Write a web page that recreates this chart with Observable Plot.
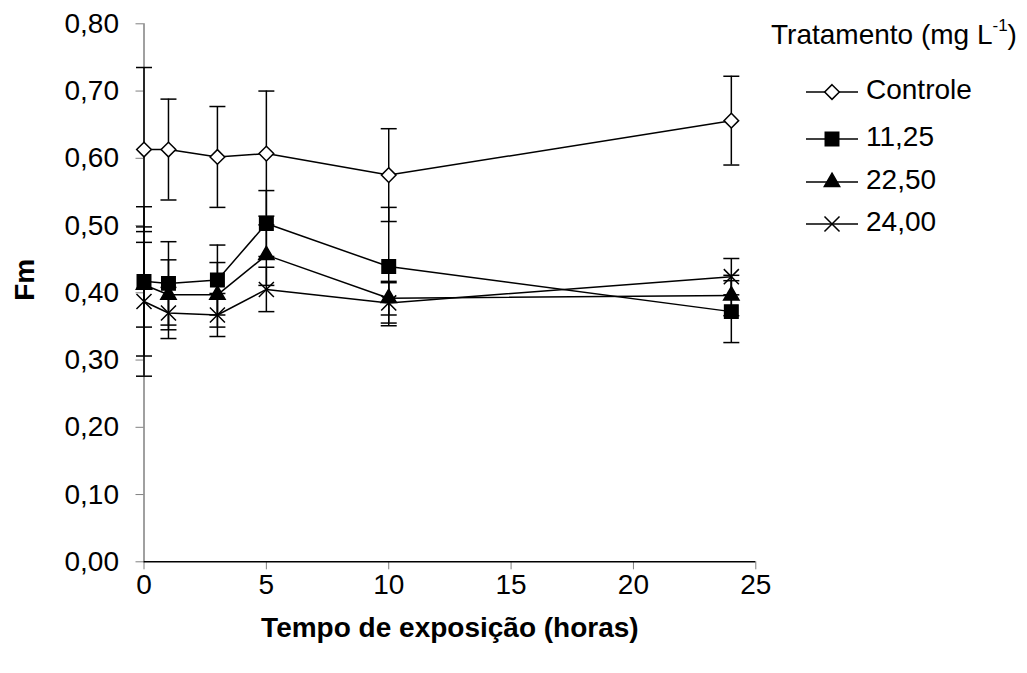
<!DOCTYPE html>
<html>
<head>
<meta charset="utf-8">
<script src="https://cdn.jsdelivr.net/npm/d3@7"></script>
<script src="https://cdn.jsdelivr.net/npm/@observablehq/plot@0.6"></script>
<style>
  body { margin: 0; background: #fff; }
  #wrap { position: relative; width: 1027px; height: 673px; font-family: "Liberation Sans", Arial, sans-serif; color: #000; }
  #legend { position: absolute; left: 0; top: 0; font-size: 28px; }
  .lg { position: absolute; white-space: nowrap; line-height: 34px; }
  .lg svg { vertical-align: middle; }
  sup { font-size: 17px; position: relative; top: -3px; vertical-align: super; line-height: 0; }
</style>
</head>
<body>
<div id="wrap"></div>
<script>
// ---- data ----
const hours = [0, 1, 3, 5, 10, 24];
const seriesNames = ["Controle", "11,25", "22,50", "24,00"];
const controle   = [0.613, 0.613, 0.602, 0.607, 0.575, 0.656];
const controleSD = [0.122, 0.075, 0.075, 0.093, 0.069, 0.066];
const t1125      = [0.417, 0.414, 0.419, 0.503, 0.439, 0.372];
const t1125SD    = [0.111, 0.062, 0.052, 0.049, 0.088, 0.046];
const t2250      = [0.412, 0.397, 0.397, 0.456, 0.392, 0.396];
const t2250SD    = [0.063, 0.052, 0.048, 0.045, 0.025, 0.030];
const t2400      = [0.387, 0.370, 0.367, 0.405, 0.385, 0.424];
const t2400SD    = [0.111, 0.038, 0.032, 0.033, 0.030, 0.027];
const xTicks = [0, 5, 10, 15, 20, 25];
const yTicks = [0, 0.1, 0.2, 0.3, 0.4, 0.5, 0.6, 0.7, 0.8];
const xTitle = "Tempo de exposição (horas)";
const yTitle = "Fm";
const legendTitle = "Tratamento (mg L";

const means = [controle, t1125, t2250, t2400];
const sds = [controleSD, t1125SD, t2250SD, t2400SD];
const rows = [];
seriesNames.forEach((s, k) => hours.forEach((h, i) => rows.push({serie: s, hora: h, fm: means[k][i], sd: sds[k][i]})));

const styles = {
  "Controle": {symbol: "diamond2", fill: "#fff", stroke: "#000", r: 6.6},
  "11,25": {symbol: "square", fill: "#000", stroke: "#000", r: 7.6},
  "22,50": {symbol: "triangle", fill: "#000", stroke: "#000", r: 5.7},
  "24,00": {symbol: "times", fill: "none", stroke: "#000", r: 6.9}
};
const d3sym = {diamond2: d3.symbolDiamond2, square: d3.symbolSquare, triangle: d3.symbolTriangle, times: d3.symbolTimes};

const capSymbol = {
  draw(ctx, size) {
    const h = Math.sqrt(size / Math.PI);
    ctx.moveTo(-h, 0);
    ctx.lineTo(h, 0);
  }
};

const fmt = d => d.toFixed(2).replace(".", ",");

const marks = [
  Plot.ruleX([0], {stroke: "#808080", strokeWidth: 1.5}),
  Plot.axisY({ticks: yTicks, tickSize: 8, tickPadding: 17, tickFormat: fmt, stroke: "#808080", fill: "#000", fontSize: 28, label: null}),
  Plot.axisX({ticks: xTicks, tickSize: 8, tickPadding: 4, stroke: "#808080", fill: "#000", fontSize: 28, label: null}),
  Plot.ruleX(rows, {x: "hora", y1: d => d.fm - d.sd, y2: d => d.fm + d.sd, stroke: "#000", strokeWidth: 1.5}),
  Plot.dot(rows, {x: "hora", y: d => d.fm + d.sd, symbol: capSymbol, r: 8, stroke: "#000", strokeWidth: 1.5, fill: "none"}),
  Plot.dot(rows, {x: "hora", y: d => d.fm - d.sd, symbol: capSymbol, r: 8, stroke: "#000", strokeWidth: 1.5, fill: "none"}),
  Plot.ruleY([0], {stroke: "#000", strokeWidth: 1.5}),
  Plot.line(rows, {x: "hora", y: "fm", z: "serie", stroke: "#000", strokeWidth: 1.5})
];
for (const s of seriesNames) {
  const st = styles[s];
  marks.push(Plot.dot(rows.filter(d => d.serie === s), {
    x: "hora", y: "fm", symbol: st.symbol, r: st.r, fill: st.fill, stroke: st.stroke, strokeWidth: 1.5
  }));
}
marks.push(Plot.text([yTitle], {frameAnchor: "left", dx: -118.5, dy: 8, rotate: -90, fontWeight: "bold", fontSize: 28}));
marks.push(Plot.text([xTitle], {frameAnchor: "bottom", dy: 75, fontWeight: "bold", fontSize: 28}));

const chart = Plot.plot({
  width: 1027,
  height: 673,
  marginLeft: 143.5,
  marginRight: 271.7,
  marginTop: 23.3,
  marginBottom: 111.7,
  x: {domain: [0, 25]},
  y: {domain: [0, 0.8]},
  style: {fontFamily: "'Liberation Sans', Arial, sans-serif", fontSize: "28px", color: "#000", background: "#fff"},
  marks
});
const wrap = document.getElementById("wrap");
wrap.appendChild(chart);

// ---- legend ----
const legend = document.createElement("div");
legend.id = "legend";
const title = document.createElement("div");
title.className = "lg";
title.style.left = "771px";
title.style.top = "18px";
title.innerHTML = legendTitle + "<sup>-1</sup>)";
legend.appendChild(title);
const rowY = [90, 137, 180, 222];
seriesNames.forEach((s, i) => {
  const st = styles[s];
  const item = document.createElement("div");
  item.className = "lg";
  item.style.left = "806px";
  item.style.top = (rowY[i] - 17) + "px";
  const path = d3.symbol(d3sym[st.symbol], Math.PI * st.r * st.r)();
  item.innerHTML =
    `<svg width="53" height="24" style="margin-right:7px"><line x1="0" x2="52" y1="12" y2="12" stroke="#000" stroke-width="1.5"/>` +
    `<path transform="translate(26,12)" d="${path}" fill="${st.fill}" stroke="${st.stroke}" stroke-width="1.5"/></svg>` +
    `<span>${s}</span>`;
  legend.appendChild(item);
});
wrap.appendChild(legend);
</script>
</body>
</html>
